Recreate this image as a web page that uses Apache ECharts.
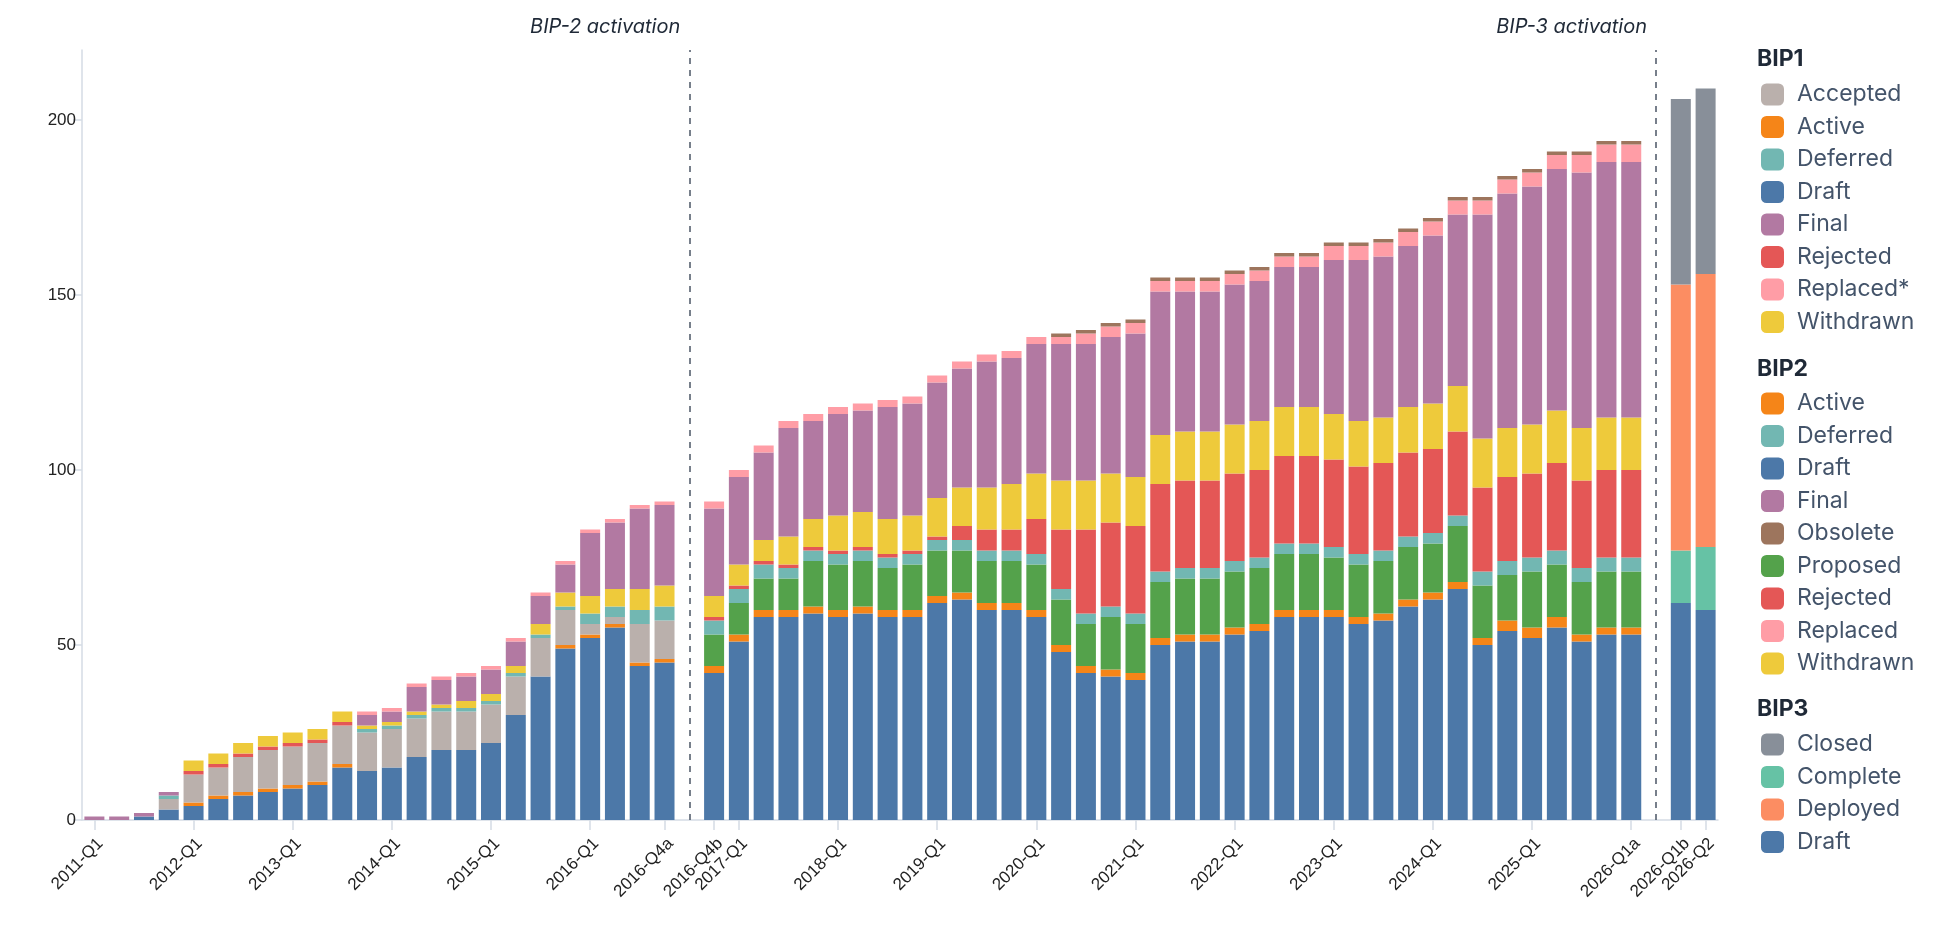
<!DOCTYPE html>
<html><head><meta charset="utf-8">
<script src="https://cdn.jsdelivr.net/npm/echarts@6/dist/echarts.min.js"></script>
<style>html,body{margin:0;padding:0;background:#fff}#chart{width:1934px;height:940px}</style>
</head><body><div id="chart"></div>
<script>
// ---- categories ----
const bip1Periods = ['2011-Q1','2011-Q2','2011-Q3','2011-Q4','2012-Q1','2012-Q2','2012-Q3','2012-Q4',
  '2013-Q1','2013-Q2','2013-Q3','2013-Q4','2014-Q1','2014-Q2','2014-Q3','2014-Q4',
  '2015-Q1','2015-Q2','2015-Q3','2015-Q4','2016-Q1','2016-Q2','2016-Q3','2016-Q4a'];
const bip2Periods = ['2016-Q4b','2017-Q1','2017-Q2','2017-Q3','2017-Q4','2018-Q1','2018-Q2','2018-Q3','2018-Q4',
  '2019-Q1','2019-Q2','2019-Q3','2019-Q4','2020-Q1','2020-Q2','2020-Q3','2020-Q4',
  '2021-Q1','2021-Q2','2021-Q3','2021-Q4','2022-Q1','2022-Q2','2022-Q3','2022-Q4',
  '2023-Q1','2023-Q2','2023-Q3','2023-Q4','2024-Q1','2024-Q2','2024-Q3','2024-Q4',
  '2025-Q1','2025-Q2','2025-Q3','2025-Q4','2026-Q1a'];
const bip3Periods = ['2026-Q1b','2026-Q2'];
const gapBefore2 = 'gap-bip2';
const gapBefore3 = 'gap-bip3';
const tickLabels = ['2011-Q1','2012-Q1','2013-Q1','2014-Q1','2015-Q1','2016-Q1','2016-Q4a','2016-Q4b',
  '2017-Q1','2018-Q1','2019-Q1','2020-Q1','2021-Q1','2022-Q1','2023-Q1','2024-Q1','2025-Q1',
  '2026-Q1a','2026-Q1b','2026-Q2'];

// ---- BIP1 era (stack order bottom→top) ----
const bip1Draft     = [0,0,1,3,4,6,7,8,9,10,15,14,15,18,20,20,22,30,41,49,52,55,44,45];
const bip1Active    = [0,0,0,0,1,1,1,1,1,1,1,0,0,0,0,0,0,0,0,1,1,1,1,1];
const bip1Accepted  = [0,0,0,3,8,8,10,11,11,11,11,11,11,11,11,11,11,11,11,10,3,2,11,11];
const bip1Deferred  = [0,0,0,1,0,0,0,0,0,0,0,1,1,1,1,1,1,1,1,1,3,3,4,4];
const bip1Rejected  = [0,0,0,0,1,1,1,1,1,1,1,0,0,0,0,0,0,0,0,0,0,0,0,0];
const bip1Withdrawn = [0,0,0,0,3,3,3,3,3,3,3,1,1,1,1,2,2,2,3,4,5,5,6,6];
const bip1Final     = [1,1,1,1,0,0,0,0,0,0,0,3,3,7,7,7,7,7,8,8,18,19,23,23];
const bip1Replaced  = [0,0,0,0,0,0,0,0,0,0,0,1,1,1,1,1,1,1,1,1,1,1,1,1];

// ---- BIP2 era ----
const bip2Draft     = [42,51,58,58,59,58,59,58,58,62,63,60,60,58,48,42,41,40,50,51,51,53,54,58,58,58,56,57,61,63,66,50,54,52,55,51,53,53];
const bip2Active    = [2,2,2,2,2,2,2,2,2,2,2,2,2,2,2,2,2,2,2,2,2,2,2,2,2,2,2,2,2,2,2,2,3,3,3,2,2,2];
const bip2Proposed  = [9,9,9,9,13,13,13,12,13,13,12,12,12,13,13,12,15,14,16,16,16,16,16,16,16,15,15,15,15,14,16,15,13,16,15,15,16,16];
const bip2Deferred  = [4,4,4,3,3,3,3,3,3,3,3,3,3,3,3,3,3,3,3,3,3,3,3,3,3,3,3,3,3,3,3,4,4,4,4,4,4,4];
const bip2Rejected  = [1,1,1,1,1,1,1,1,1,1,4,6,6,10,17,24,24,25,25,25,25,25,25,25,25,25,25,25,24,24,24,24,24,24,25,25,25,25];
const bip2Withdrawn = [6,6,6,8,8,10,10,10,10,11,11,12,13,13,14,14,14,14,14,14,14,14,14,14,14,13,13,13,13,13,13,14,14,14,15,15,15,15];
const bip2Final     = [25,25,25,31,28,29,29,32,32,33,34,36,36,37,39,39,39,41,41,40,40,40,40,40,40,44,46,46,46,48,49,64,67,68,69,73,73,73];
const bip2Replaced  = [2,2,2,2,2,2,2,2,2,2,2,2,2,2,2,3,3,3,3,3,3,3,3,3,3,4,4,4,4,4,4,4,4,4,4,5,5,5];
const bip2Obsolete  = [0,0,0,0,0,0,0,0,0,0,0,0,0,0,1,1,1,1,1,1,1,1,1,1,1,1,1,1,1,1,1,1,1,1,1,1,1,1];

// ---- BIP3 era ----
const bip3Draft    = [62,60];
const bip3Complete = [15,18];
const bip3Deployed = [76,78];
const bip3Closed   = [53,53];

// ---- build ----
const categories = [...bip1Periods, gapBefore2, ...bip2Periods, gapBefore3, ...bip3Periods];
const start1 = 0, start2 = bip1Periods.length + 1, start3 = start2 + bip2Periods.length + 1;

const C = {
  accepted:'#bab0ac', active:'#f58518', deferred:'#72b7b2', draft:'#4c78a8', final:'#b279a2',
  rejected:'#e45756', replaced:'#ff9da6', withdrawn:'#eeca3b', proposed:'#54a24b', obsolete:'#9d755d',
  closed:'#888f99', complete:'#66c2a5', deployed:'#fc8d62'
};

function place(arr, start) {
  const out = new Array(categories.length).fill(null);
  arr.forEach((v, i) => { out[start + i] = v === 0 ? null : v; });
  return out;
}
function mk(era, label, arr, start, color) {
  return { name: era + ' ' + label, type: 'bar', stack: 'total', data: place(arr, start),
    barWidth: 20, itemStyle: { color: color }, emphasis: { disabled: true } };
}

const series = [
  mk('BIP1','Draft',bip1Draft,start1,C.draft),
  mk('BIP1','Active',bip1Active,start1,C.active),
  mk('BIP1','Accepted',bip1Accepted,start1,C.accepted),
  mk('BIP1','Deferred',bip1Deferred,start1,C.deferred),
  mk('BIP1','Rejected',bip1Rejected,start1,C.rejected),
  mk('BIP1','Withdrawn',bip1Withdrawn,start1,C.withdrawn),
  mk('BIP1','Final',bip1Final,start1,C.final),
  mk('BIP1','Replaced*',bip1Replaced,start1,C.replaced),
  mk('BIP2','Draft',bip2Draft,start2,C.draft),
  mk('BIP2','Active',bip2Active,start2,C.active),
  mk('BIP2','Proposed',bip2Proposed,start2,C.proposed),
  mk('BIP2','Deferred',bip2Deferred,start2,C.deferred),
  mk('BIP2','Rejected',bip2Rejected,start2,C.rejected),
  mk('BIP2','Withdrawn',bip2Withdrawn,start2,C.withdrawn),
  mk('BIP2','Final',bip2Final,start2,C.final),
  mk('BIP2','Replaced',bip2Replaced,start2,C.replaced),
  mk('BIP2','Obsolete',bip2Obsolete,start2,C.obsolete),
  mk('BIP3','Draft',bip3Draft,start3,C.draft),
  mk('BIP3','Complete',bip3Complete,start3,C.complete),
  mk('BIP3','Deployed',bip3Deployed,start3,C.deployed),
  mk('BIP3','Closed',bip3Closed,start3,C.closed)
];

const Y_MAX = 220;
// activation markers on the first series
series[0].markLine = {
  silent: true, symbol: 'none',
  lineStyle: { color: '#4b5565', type: [6, 6], width: 1.5 },
  label: { show: false },
  data: [{ xAxis: gapBefore2 }, { xAxis: gapBefore3 }]
};
series[0].markPoint = {
  silent: true, symbol: 'circle', symbolSize: 0,
  label: { show: true, position: [-9, -23], align: 'right', verticalAlign: 'middle',
    fontFamily: 'Inter', fontStyle: 'italic', fontSize: 20, color: '#1f2937' },
  data: [
    { coord: [gapBefore2, Y_MAX], label: { formatter: 'BIP-2 activation' } },
    { coord: [gapBefore3, Y_MAX], label: { formatter: 'BIP-3 activation' } }
  ]
};

const legendBase = {
  orient: 'vertical', left: 1756, itemWidth: 23, itemHeight: 22, itemGap: 9.5, padding: 5,
  icon: 'roundRect', selectedMode: false,
  formatter: n => n.replace(/^BIP\d /, ''),
  textStyle: { fontFamily: 'Inter', fontSize: 23, color: '#44546a', padding: [0, 0, 0, 8] }
};
const legend1 = ['Accepted','Active','Deferred','Draft','Final','Rejected','Replaced*','Withdrawn'].map(s => 'BIP1 ' + s);
const legend2 = ['Active','Deferred','Draft','Final','Obsolete','Proposed','Rejected','Replaced','Withdrawn'].map(s => 'BIP2 ' + s);
const legend3 = ['Closed','Complete','Deployed','Draft'].map(s => 'BIP3 ' + s);

const axisColor = '#d5dbe5';
const option = {
  backgroundColor: '#ffffff',
  animation: false,
  grid: { left: 82, right: 216, top: 50, bottom: 120 },
  xAxis: {
    type: 'category', data: categories,
    axisLine: { lineStyle: { color: axisColor, width: 1.5 } },
    axisTick: { show: true, alignWithLabel: true, length: 10, lineStyle: { color: axisColor, width: 1.5 },
      interval: (i, v) => tickLabels.includes(v) },
    axisLabel: { rotate: 45, margin: 15, verticalAlign: 'top', fontFamily: 'Liberation Sans', fontSize: 17, color: '#222',
      hideOverlap: false, showMinLabel: true, showMaxLabel: true,
      interval: (i, v) => tickLabels.includes(v) }
  },
  yAxis: {
    type: 'value', min: 0, max: Y_MAX, interval: 50,
    axisLine: { show: true, lineStyle: { color: axisColor, width: 1.5 } },
    axisTick: { show: true, length: 9, lineStyle: { color: axisColor, width: 1.5 } },
    axisLabel: { fontFamily: 'Liberation Sans', fontSize: 17, color: '#222', margin: 6, showMaxLabel: false },
    splitLine: { show: false }
  },
  legend: [
    Object.assign({}, legendBase, { top: 78, data: legend1 }),
    Object.assign({}, legendBase, { top: 387, data: legend2 }),
    Object.assign({}, legendBase, { top: 728, data: legend3 })
  ],
  graphic: [
    { type: 'text', left: 1757, top: 48, style: { text: 'BIP1', font: 'bold 23px Inter', fill: '#1f2937' } },
    { type: 'text', left: 1757, top: 358, style: { text: 'BIP2', font: 'bold 23px Inter', fill: '#1f2937' } },
    { type: 'text', left: 1757, top: 698, style: { text: 'BIP3', font: 'bold 23px Inter', fill: '#1f2937' } }
  ],
  series: series
};
const chart = echarts.init(document.getElementById('chart'), null, { renderer: 'canvas' });
chart.setOption(option);
</script></body></html>
